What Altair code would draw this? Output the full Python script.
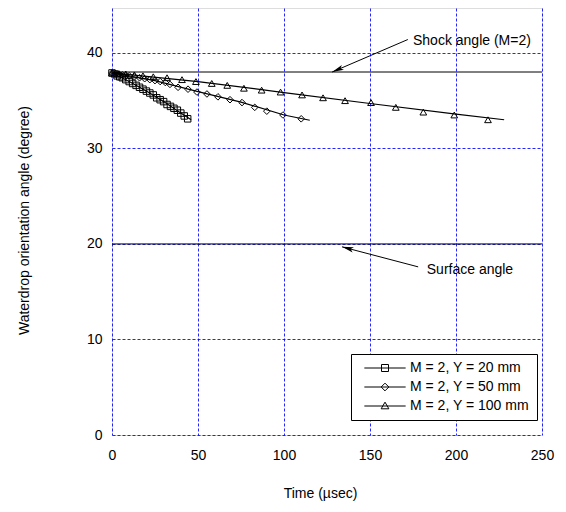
import altair as alt
import pandas as pd

FONT = "Liberation Sans"
FS = 14

series_names = ["M = 2, Y = 20 mm", "M = 2, Y = 50 mm", "M = 2, Y = 100 mm"]

# Y = 20 mm (squares)
t_20 = [0, 1.5, 3, 4.5, 6, 8, 10, 12, 14, 16, 18, 20, 22, 24, 26, 28, 30, 32, 34, 36, 38, 40, 42, 44]
a_20 = [37.9, 37.8, 37.6, 37.5, 37.4, 37.2, 37.0, 36.8, 36.6, 36.4, 36.2, 36.0, 35.8, 35.6, 35.3,
        35.1, 34.9, 34.6, 34.4, 34.2, 34.0, 33.7, 33.4, 33.1]
# Y = 50 mm (diamonds)
t_50 = [0, 2, 4, 6, 8, 10, 13, 16, 19, 22, 25, 28, 31, 33.7, 38.4, 44.2, 49.4, 55.2, 61.6, 68.6,
        75.6, 83, 90, 99.4, 110]
a_50 = [37.9, 37.8, 37.8, 37.7, 37.6, 37.6, 37.5, 37.4, 37.3, 37.2, 37.1, 37.0, 36.9, 36.7, 36.4,
        36.2, 35.9, 35.7, 35.4, 35.1, 34.8, 34.3, 33.9, 33.5, 33.1]
# Y = 100 mm (triangles)
t_100 = [0, 4, 8, 13, 18, 24, 32, 40.7, 48.8, 58, 67, 76.7, 87, 98, 110.5, 122.7, 135.5, 150.6,
         165, 181, 199, 218.6]
a_100 = [37.9, 37.8, 37.8, 37.7, 37.6, 37.5, 37.4, 37.2, 37.0, 36.8, 36.6, 36.3, 36.1, 35.9, 35.6,
         35.3, 35.0, 34.8, 34.3, 33.8, 33.5, 33.0]

# fitted curves
fit_t_20 = [0, 10, 20, 30, 40, 46]
fit_a_20 = [37.9, 37.0, 36.0, 34.9, 33.7, 33.0]
fit_t_50 = [0, 25, 50, 75, 100, 115]
fit_a_50 = [37.9, 37.1, 35.95, 34.85, 33.5, 32.95]
fit_t_100 = [0, 50, 100, 150, 200, 228]
fit_a_100 = [37.9, 37.0, 35.85, 34.7, 33.6, 33.0]

ref_lines = [38.0, 20.0]

annot_text = ["Shock angle (M=2)", "Surface angle"]
annot_text_t = [175, 183]
annot_text_a = [41.2, 17.3]
arrow_tail_t = [172, 178]
arrow_tail_a = [41.4, 17.6]
arrow_head_t = [128, 133.7]
arrow_head_a = [38.0, 19.7]
arrow_angle = [246.7, 284.8]

x_ticks = [0, 50, 100, 150, 200, 250]
y_ticks = [0, 10, 20, 30, 40]

pts = pd.concat([
    pd.DataFrame({"t": t_20, "a": a_20, "series": series_names[0]}),
    pd.DataFrame({"t": t_50, "a": a_50, "series": series_names[1]}),
    pd.DataFrame({"t": t_100, "a": a_100, "series": series_names[2]}),
])
fits = pd.concat([
    pd.DataFrame({"t": fit_t_20, "a": fit_a_20, "series": series_names[0]}),
    pd.DataFrame({"t": fit_t_50, "a": fit_a_50, "series": series_names[1]}),
    pd.DataFrame({"t": fit_t_100, "a": fit_a_100, "series": series_names[2]}),
])
hl = pd.DataFrame({"a": ref_lines})
ann = pd.DataFrame({"label": annot_text, "t": annot_text_t, "a": annot_text_a})
arr = pd.DataFrame({"t": arrow_tail_t, "a": arrow_tail_a, "t2": arrow_head_t,
                    "a2": arrow_head_a, "ang": arrow_angle})

xs = alt.Scale(domain=[0, 250], nice=False, zero=False)
ys = alt.Scale(domain=[0, 44.7], nice=False, zero=False)
xaxis = alt.Axis(values=x_ticks, title="Time (µsec)", grid=True, domain=False, ticks=False,
                 tickSize=0, labelPadding=13, labelFontSize=FS, labelFont=FONT, labelColor="black",
                 labelFlush=False,
                 titleFontSize=FS, titleFont=FONT, titleFontWeight="normal", titleColor="black",
                 titleX=208, titleY=58, titleBaseline="middle", titleAlign="center",
                 gridColor="#0000ff", gridDash=[3, 2], gridWidth=1, gridOpacity=0.85)
yaxis = alt.Axis(values=y_ticks, title="Waterdrop orientation angle (degree)", grid=True,
                 domain=False, ticks=False, tickSize=0, labelPadding=10, labelFontSize=FS,
                 labelFont=FONT, labelColor="black", labelFlush=False,
                 titleFontSize=FS, titleFont=FONT,
                 titleFontWeight="normal", titleColor="black", titleAngle=270,
                 titleX=-88, titleY=212, titleBaseline="middle", titleAlign="center",
                 gridColor="#0000ff", gridDash=[3, 2], gridWidth=1, gridOpacity=0.85)


def X(f="t"):
    return alt.X(f"{f}:Q", scale=xs, axis=xaxis)


def Y(f="a"):
    return alt.Y(f"{f}:Q", scale=ys, axis=yaxis)


hlines = alt.Chart(hl).mark_rule(color="black", strokeWidth=1).encode(y=Y())

fit_lines = alt.Chart(fits).mark_line(color="black", strokeWidth=1.2).encode(
    x=X(), y=Y(), detail="series:N")

points = alt.Chart(pts).mark_point(filled=False, color="black", strokeWidth=1,
                                   opacity=1).encode(
    x=X(), y=Y(),
    shape=alt.Shape("series:N", scale=alt.Scale(domain=series_names,
                                                range=["square", "diamond", "triangle-up"]),
                    legend=None),
    size=alt.Size("series:N", scale=alt.Scale(domain=series_names, range=[42, 45, 60]),
                  legend=None))

leg_paths = [
    "M-5.9,0H5.9M-1,-1H1V1H-1Z",
    "M-5.9,0H5.9M0,-1.1L1.1,0L0,1.1L-1.1,0Z",
    "M-5.9,0H5.9M0,-1.1L1.1,0.8L-1.1,0.8Z",
]
legend_layer = alt.Chart(pts).mark_point(filled=False, color="black", strokeWidth=1, size=49,
                                         opacity=0).encode(
    x=X(), y=Y(),
    shape=alt.Shape("series:N", scale=alt.Scale(domain=series_names, range=leg_paths),
                    legend=alt.Legend(title=None, orient="none", legendX=239, legendY=346,
                                      fillColor="white", strokeColor="black", padding=7,
                                      labelFontSize=FS, labelFont=FONT, labelColor="black",
                                      symbolSize=49, symbolOffset=20, labelOffset=18,
                                      rowPadding=5, symbolStrokeColor="black",
                                      symbolStrokeWidth=1)))

arrow_lines = alt.Chart(arr).mark_rule(color="black", strokeWidth=1).encode(
    x=X(), y=Y(), x2="t2:Q", y2="a2:Q")
arrow_heads = alt.Chart(arr).mark_point(shape="M0,0L0.6,2.6L0,2L-0.6,2.6Z", filled=True,
                                        color="black", size=81, opacity=1).encode(
    x=X("t2"), y=Y("a2"), angle=alt.Angle("ang:Q", scale=None))

ann_text = alt.Chart(ann).mark_text(align="left", baseline="middle", fontSize=FS, font=FONT,
                                    color="black").encode(x=X(), y=Y(), text="label:N")

chart = alt.layer(hlines, fit_lines, points, legend_layer, arrow_lines, arrow_heads,
                  ann_text).resolve_scale(shape="independent", size="independent").properties(
    width=430, height=427,
    padding={"left": 104, "top": 0, "right": 16, "bottom": 69},
    autosize="none",
).configure_view(stroke="#0000ff", strokeWidth=1.5).configure(background="white")

chart.save("out.html", embed_options={"renderer": "svg", "actions": False})
